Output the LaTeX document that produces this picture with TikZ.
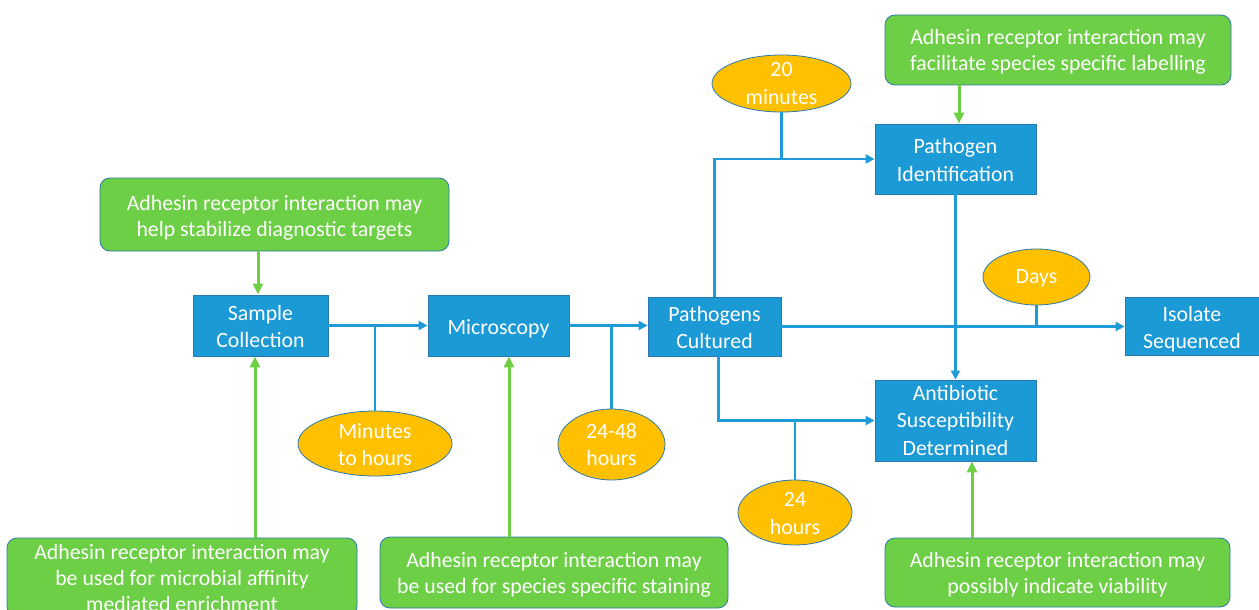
\documentclass[tikz,border=0pt]{standalone}
\usepackage{fontspec}
\setmainfont{Carlito}
\usetikzlibrary{arrows.meta,shapes.geometric}
\definecolor{boxblue}{HTML}{1B9AD6}
\definecolor{edgeblue}{HTML}{2A78B0}
\definecolor{lineblue}{HTML}{1F9BDA}
\definecolor{leafgreen}{HTML}{6DCF45}
\definecolor{amber}{HTML}{FFC000}
\begin{document}
\begin{tikzpicture}[x=1pt,y=-1pt,
  stepbox/.style={rectangle, draw=edgeblue, line width=0.8pt, fill=boxblue, inner sep=0pt},
  notebox/.style={rectangle, draw=edgeblue, line width=0.8pt, fill=leafgreen, inner sep=0pt, rounded corners=10pt},
  timebox/.style={ellipse, draw=edgeblue, line width=0.8pt, fill=amber, inner sep=0pt},
  steptext/.style={text=white, align=center, inner sep=0pt, font=\fontsize{21.8}{27.5}\selectfont},
  notetext/.style={text=white, align=center, inner sep=0pt, font=\fontsize{21.8}{26}\selectfont},
  flow/.style={draw=lineblue, line width=2.2pt, -{Triangle[length=9pt,width=9pt]}},
  tie/.style={draw=lineblue, line width=2.2pt},
  hint/.style={draw=leafgreen, line width=3pt, -{Triangle[length=11pt,width=10pt]}}]
\useasboundingbox (0,0) rectangle (1259,610);

% process steps
\node[stepbox, minimum width=135pt, minimum height=61pt] (sc) at (260.5,325.5) {};
\node[steptext] (sct) at ([yshift=-1pt]sc.center) {Sample\\Collection};
\node[stepbox, minimum width=141pt, minimum height=61pt] (mi) at (498.5,325.5) {};
\node[steptext] (mit) at ([yshift=-3pt]mi.center) {Microscopy};
\node[stepbox, minimum width=133pt, minimum height=59pt] (pc) at (714.5,326.5) {};
\node[steptext] (pct) at ([yshift=-1pt]pc.center) {Pathogens\\Cultured};
\node[stepbox, minimum width=161pt, minimum height=70pt] (pi) at (955.5,159) {};
\node[steptext] (pit) at ([yshift=-1pt]pi.center) {Pathogen\\Identification};
\node[stepbox, minimum width=161pt, minimum height=81pt] (ab) at (955.5,420.5) {};
\node[steptext] (abt) at (ab.center) {Antibiotic\\Susceptibility\\Determined};
\node[stepbox, minimum width=136pt, minimum height=58pt] (is) at (1193,326) {};
\node[steptext] (ist) at ([xshift=-1pt,yshift=-3pt]is.center) {Isolate\\Sequenced};

% notes
\node[notebox, minimum width=349pt, minimum height=73pt] (gt1) at (274.5,214.5) {};
\node[notetext] (gt1t) at ([yshift=-3pt]gt1.center) {Adhesin receptor interaction may\\help stabilize diagnostic targets};
\node[notebox, minimum width=346pt, minimum height=70pt] (gt2) at (1058,50) {};
\node[notetext] (gt2t) at ([yshift=-2pt]gt2.center) {Adhesin receptor interaction may\\facilitate species specific labelling};
\node[notebox, minimum width=350pt, minimum height=78pt] (gb1) at (182,577) {};
\node[notetext] (gb1t) at ([yshift=-1pt]gb1.center) {Adhesin receptor interaction may\\be used for microbial affinity\\mediated enrichment};
\node[notebox, minimum width=348pt, minimum height=71pt] (gb2) at (554,572.5) {};
\node[notetext] (gb2t) at ([yshift=-2pt]gb2.center) {Adhesin receptor interaction may\\be used for species specific staining};
\node[notebox, minimum width=345pt, minimum height=69pt] (gb3) at (1057.5,572.5) {};
\node[notetext] (gb3t) at ([yshift=-2pt]gb3.center) {Adhesin receptor interaction may\\possibly indicate viability};

% times
\node[timebox, minimum width=154pt, minimum height=65pt] (t1) at (375,443.5) {};
\node[steptext] (t1t) at ([yshift=-1pt]t1.center) {Minutes\\to hours};
\node[timebox, minimum width=107pt, minimum height=71pt] (t2) at (611.5,444.5) {};
\node[steptext] (t2t) at (t2.center) {24-48\\hours};
\node[timebox, minimum width=139pt, minimum height=57pt] (t3) at (781.5,83.5) {};
\node[steptext] (t3t) at (t3.center) {20\\minutes};
\node[timebox, minimum width=107pt, minimum height=56pt] (t4) at (1036.5,277) {};
\node[steptext] (t4t) at ([yshift=-1pt]t4.center) {Days};
\node[timebox, minimum width=114pt, minimum height=65pt] (t5) at (795,512.5) {};
\node[steptext] (t5t) at ([yshift=-1pt]t5.center) {24\\hours};

% flow connectors
\draw[flow] (sc.east) -- (mi.west);
\draw[tie] (t1.north) -- (t1.north |- sc.east);
\draw[flow] (mi.east) -- (mi.east -| pc.west);
\draw[tie] (t2.north) -- (t2.north |- mi.east);
\draw[flow] (pc.north) |- (pi.west);
\draw[tie] (t3.south) -- (t3.south |- pi.west);
\draw[flow] (pc.east) -- (pc.east -| is.west);
\draw[tie] (t4.south) -- (t4.south |- pc.east);
\draw[flow] (pi.south) -- (ab.north);
\coordinate (pcs) at ([xshift=4pt]pc.south);
\draw[flow] (pcs) |- (ab.west);
\draw[tie] (t5.north) -- (t5.north |- ab.west);

% hint arrows
\coordinate (a0) at ([xshift=-2.5pt]sc.north);
\draw[hint] (gt1.south -| a0) -- (a0);
\coordinate (a1) at ([xshift=-5.5pt]sc.south);
\draw[hint] (gb1.north -| a1) -- (a1);
\coordinate (a2) at ([xshift=10.5pt]mi.south);
\draw[hint] (gb2.north -| a2) -- (a2);
\coordinate (a3) at ([xshift=3.5pt]pi.north);
\draw[hint] (gt2.south -| a3) -- (a3);
\coordinate (a4) at ([xshift=16.5pt]ab.south);
\draw[hint] (gb3.north -| a4) -- (a4);
\end{tikzpicture}
\end{document}
